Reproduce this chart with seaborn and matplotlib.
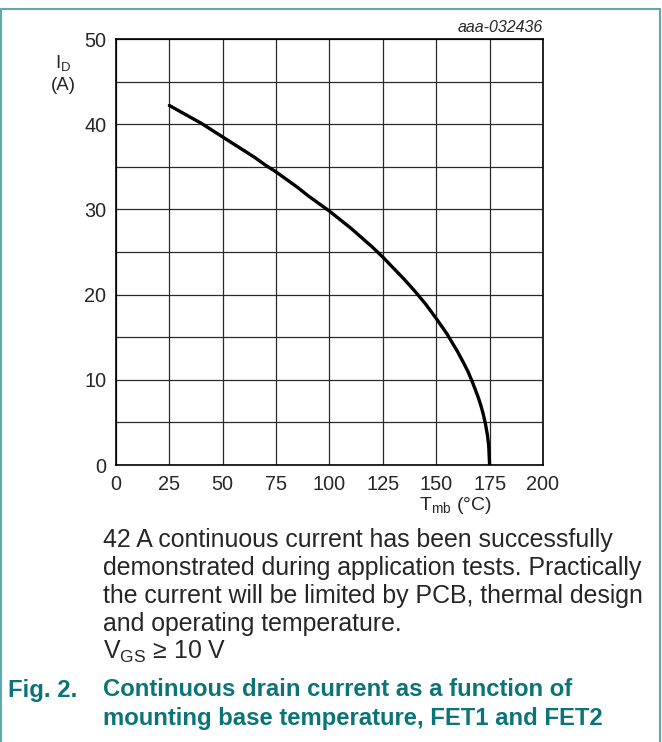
"""Continuous drain current vs mounting base temperature"""
import matplotlib
matplotlib.use("Agg")
import matplotlib.pyplot as plt
import seaborn as sns
import pandas as pd
from matplotlib.lines import Line2D

# curve
t_mb = [25, 30, 35, 40, 45, 50, 55, 60, 65, 70, 75, 80, 85, 90, 95, 100,
        105, 110, 115, 120, 125, 130, 135, 140, 145, 150, 155, 160, 163,
        165, 167, 169, 170, 171, 172, 173, 174, 174.6, 175]
i_d = [42.2, 41.5, 40.8, 40.1, 39.3, 38.5, 37.7, 36.9, 36.1, 35.2, 34.4, 33.5,
       32.6, 31.6, 30.7, 29.8, 28.8, 27.8, 26.7, 25.6, 24.4, 23.1, 21.8, 20.4,
       18.9, 17.2, 15.4, 13.3, 11.9, 10.9, 9.7, 8.4, 7.7, 6.9, 6.0, 4.9, 3.5,
       2.2, 0.0]
x_ticks = [0, 25, 50, 75, 100, 125, 150, 175, 200]
y_ticks = [0, 10, 20, 30, 40, 50]

df = pd.DataFrame({"Tmb": t_mb, "ID": i_d})

sns.set_style("white")
plt.rcParams["font.family"] = ["Liberation Sans", "DejaVu Sans"]

teal = "#0b7479"
frame = "#5fa8ad"

fig = plt.figure(figsize=(6.62, 7.42), dpi=100)
ax = fig.add_axes([0.1752, 0.3733, 0.645, 0.5741])

sns.lineplot(data=df, x="Tmb", y="ID", color="black", linewidth=2.4, ax=ax)

ax.set_xlim(0, 200)
ax.set_ylim(0, 50)
ax.set_xticks(x_ticks)
ax.set_yticks(y_ticks)
ax.set_yticks(range(0, 51, 5), minor=True)
ax.grid(True, which="both", color="#2a2a2a", linewidth=0.9)
ax.tick_params(axis="both", which="both", length=0, labelsize=14.3)
ax.tick_params(axis="x", pad=7)
ax.tick_params(axis="y", pad=7)
for s in ax.spines.values():
    s.set_color("black")
    s.set_linewidth(1.2)
ax.set_xlabel("")
ax.set_ylabel("")

# axis titles placed like the datasheet
fig.text(63 / 662, 1 - 64 / 742, r"I$_\mathregular{D}$", fontsize=13.5, ha="center", va="center")
fig.text(63 / 662, 1 - 85 / 742, "(A)", fontsize=13.5, ha="center", va="center")
fig.text(455 / 662, 1 - 506 / 742, r"T$_\mathregular{mb}$ (°C)", fontsize=14, ha="center", va="center")
fig.text(543 / 662, 1 - 28 / 742, "aaa-032436", fontsize=11.5, style="italic", ha="right", va="center")

notes = [
    "42 A continuous current has been successfully",
    "demonstrated during application tests. Practically",
    "the current will be limited by PCB, thermal design",
    "and operating temperature.",
    r"V$_\mathregular{GS}$ ≥ 10 V",
]
for k, line in enumerate(notes):
    fig.text(103 / 662, 1 - (540 + 28 * k) / 742, line, fontsize=17.9, ha="left", va="center")

fig.text(8 / 662, 1 - 690 / 742, "Fig. 2.", fontsize=17.2, weight="bold", color=teal, ha="left", va="center")
fig.text(103 / 662, 1 - 690 / 742, "Continuous drain current as a function of",
         fontsize=17.2, weight="bold", color=teal, ha="left", va="center")
fig.text(103 / 662, 1 - 718 / 742, "mounting base temperature, FET1 and FET2",
         fontsize=17.2, weight="bold", color=teal, ha="left", va="center")

# teal frame (top, left, right)
y_top = 1 - 8.5 / 742
x_l = 1.2 / 662
x_r = 659.5 / 662
fig.add_artist(Line2D([x_l, x_r], [y_top, y_top], color=frame, linewidth=1.5))
fig.add_artist(Line2D([x_l, x_l], [0, y_top], color=frame, linewidth=1.5))
fig.add_artist(Line2D([x_r, x_r], [0, y_top], color=frame, linewidth=1.5))

fig.savefig("out.png", dpi=100)
